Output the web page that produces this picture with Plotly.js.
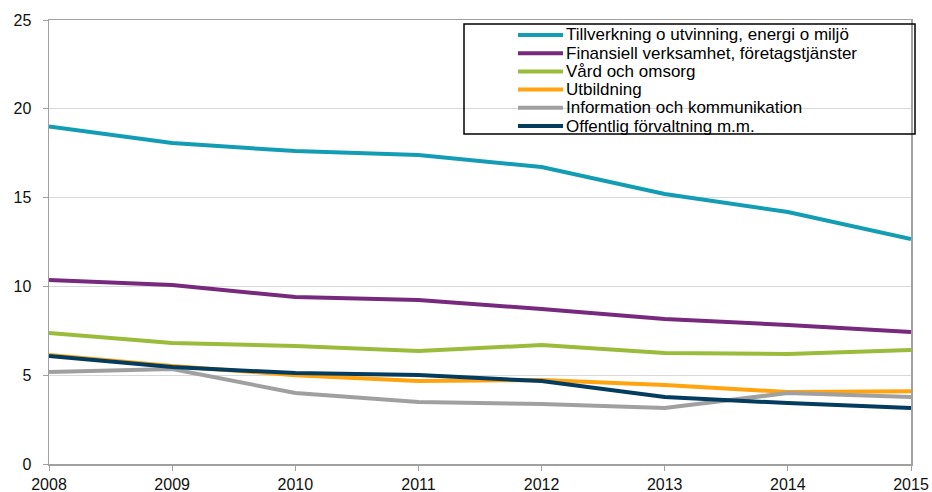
<!DOCTYPE html>
<html>
<head>
<meta charset="utf-8">
<script src="https://cdn.plot.ly/plotly-3.0.1.min.js"></script>
<style>
  html, body { margin: 0; padding: 0; background: #fff; }
  #chart { width: 932px; height: 492px; }
</style>
</head>
<body>
<div id="chart"></div>
<script>
// years on the x axis
const years = [2008, 2009, 2010, 2011, 2012, 2013, 2014, 2015];

// series
const tillverkning = [19.0, 18.07, 17.62, 17.4, 16.72, 15.2, 14.19, 12.67];
const finansiell   = [10.36, 10.08, 9.4, 9.23, 8.73, 8.16, 7.83, 7.43];
const vard         = [7.38, 6.81, 6.64, 6.36, 6.7, 6.25, 6.19, 6.42];
const utbildning   = [6.14, 5.52, 5.0, 4.67, 4.73, 4.45, 4.05, 4.1];
const information  = [5.18, 5.35, 4.0, 3.49, 3.38, 3.15, 4.0, 3.77];
const offentlig    = [6.08, 5.46, 5.12, 5.01, 4.67, 3.77, 3.43, 3.15];

const names = [
    "Tillverkning o utvinning, energi o miljö",
    "Finansiell verksamhet, företagstjänster",
    "Vård och omsorg",
    "Utbildning",
    "Information och kommunikation",
    "Offentlig förvaltning m.m."
];
const colors = ["#139db4", "#772a7d", "#9bbb3b", "#ffa30e", "#a0a0a0", "#033c5e"];
const series = [tillverkning, finansiell, vard, utbildning, information, offentlig];

const traces = series.map((vals, i) => ({
    x: years,
    y: vals,
    name: names[i],
    type: "scatter",
    mode: "lines",
    line: { color: colors[i], width: 4 }
}));

// plot area in pixels, used to place the hand-made legend box
const L = 49, T = 20, W = 862, H = 444;
const px = (x) => (x - L) / W;
const py = (y) => (T + H - y) / H;

// legend drawn with shapes + annotations (Plotly legend rows are too tall)
const shapes = [{
    type: "rect", xref: "paper", yref: "paper",
    x0: px(464), x1: px(915), y0: py(134), y1: py(24),
    line: { color: "#000", width: 1.5 },
    fillcolor: "rgba(0,0,0,0)", layer: "above"
}];
const annotations = [];
names.forEach((n, i) => {
    const rowY = 35 + i * 18.2;
    shapes.push({
        type: "line", xref: "paper", yref: "paper",
        x0: px(518), x1: px(563), y0: py(rowY), y1: py(rowY),
        line: { color: colors[i], width: 4 }, layer: "above"
    });
    annotations.push({
        xref: "paper", yref: "paper",
        x: px(564), y: py(rowY),
        xanchor: "left", yanchor: "middle",
        text: n, showarrow: false,
        font: { size: 17, color: "#000" }
    });
});

const layout = {
    width: 932,
    height: 492,
    margin: { l: L, r: 932 - L - W, t: T, b: 492 - T - H },
    paper_bgcolor: "#fff",
    plot_bgcolor: "#fff",
    font: { family: "Liberation Sans, Arial, sans-serif", size: 16, color: "#111" },
    showlegend: false,
    xaxis: {
        range: [2008, 2015],
        tickvals: years,
        ticktext: years.map(String),
        showgrid: false,
        zeroline: false,
        showline: true,
        linecolor: "#a0a0a0",
        linewidth: 1.5,
        mirror: true,
        ticks: "outside",
        ticklen: 5,
        tickcolor: "#a0a0a0",
        tickfont: { size: 16 }
    },
    yaxis: {
        range: [0, 25],
        tickvals: [0, 5, 10, 15, 20, 25],
        showgrid: true,
        gridcolor: "#d9d9d9",
        gridwidth: 1,
        zeroline: false,
        showline: true,
        linecolor: "#a0a0a0",
        linewidth: 1.5,
        mirror: true,
        ticks: "outside",
        ticklen: 5,
        tickcolor: "#a0a0a0",
        ticklabelstandoff: 8,
        tickfont: { size: 16 }
    },
    shapes: shapes,
    annotations: annotations
};

Plotly.newPlot("chart", traces, layout, { displayModeBar: false, staticPlot: true });
</script>
</body>
</html>
